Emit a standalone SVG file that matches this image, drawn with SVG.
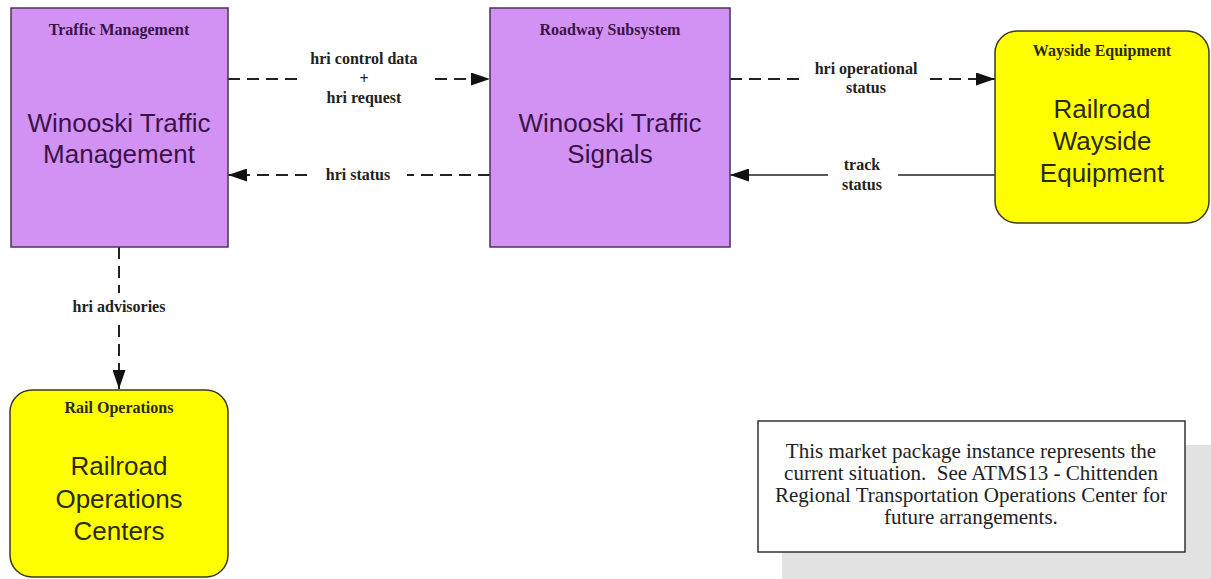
<svg xmlns="http://www.w3.org/2000/svg" width="1211" height="579" viewBox="0 0 1211 579">
<style>
.pbox{fill:#D292F4;stroke:#4a3456;stroke-width:1.5}
.ybox{fill:#FFFF00;stroke:#3a3a20;stroke-width:1.5}
.title{font-family:"Liberation Serif",serif;font-weight:bold;font-size:16px;text-anchor:middle}
.main{font-family:"Liberation Sans",Arial,sans-serif;font-size:26px;text-anchor:middle}
.ptxt{fill:#3a1248}
.ytxt{fill:#2a2a10}
.lbl{font-family:"Liberation Serif",serif;font-weight:bold;font-size:16px;text-anchor:middle;fill:#222}
.dash{stroke:#222;stroke-width:2;fill:none;stroke-dasharray:12 7}
.solid{stroke:#222;stroke-width:1.5;fill:none}
.note{font-family:"Liberation Serif",serif;font-size:21px;text-anchor:middle;fill:#222;white-space:pre}
</style>
<defs>
<marker id="arr" markerUnits="userSpaceOnUse" markerWidth="19" markerHeight="13" refX="19" refY="6.5" orient="auto">
<path d="M0,0 L19,6.5 L0,13 z" fill="#111"/>
</marker>
</defs>
<rect width="1211" height="579" fill="#ffffff"/>

<g id="connectors">
<line class="dash" x1="228" y1="79" x2="299" y2="79"/>
<line class="dash" x1="435" y1="79" x2="490" y2="79" marker-end="url(#arr)"/>
<text class="lbl" x="364" y="64">hri control data</text>
<text class="lbl" x="364" y="84">+</text>
<text class="lbl" x="364" y="103">hri request</text>

<line class="dash" x1="490" y1="175" x2="407" y2="175"/>
<line class="dash" x1="307" y1="175" x2="228" y2="175" marker-end="url(#arr)"/>
<text class="lbl" x="358" y="180">hri status</text>

<line class="dash" x1="730" y1="79" x2="803" y2="79"/>
<line class="dash" x1="930" y1="79" x2="995" y2="79" marker-end="url(#arr)"/>
<text class="lbl" x="866" y="74">hri operational</text>
<text class="lbl" x="866" y="93">status</text>

<line class="solid" x1="995" y1="175" x2="898" y2="175"/>
<line class="solid" x1="828" y1="175" x2="730" y2="175" marker-end="url(#arr)"/>
<text class="lbl" x="862" y="170">track</text>
<text class="lbl" x="862" y="190">status</text>

<line class="dash" x1="119" y1="247" x2="119" y2="293"/>
<line class="dash" x1="119" y1="325" x2="119" y2="389" marker-end="url(#arr)"/>
<text class="lbl" x="119" y="312">hri advisories</text>
</g>

<g id="traffic-management">
<rect class="pbox" x="11" y="8" width="217" height="239"/>
<text class="title ptxt" x="119" y="35">Traffic Management</text>
<text class="main ptxt" x="119" y="132">Winooski Traffic</text>
<text class="main ptxt" x="119" y="163">Management</text>
</g>

<g id="roadway-subsystem">
<rect class="pbox" x="490" y="8" width="240" height="239"/>
<text class="title ptxt" x="610" y="35">Roadway Subsystem</text>
<text class="main ptxt" x="610" y="132">Winooski Traffic</text>
<text class="main ptxt" x="610" y="163">Signals</text>
</g>

<g id="wayside-equipment">
<rect class="ybox" x="995" y="31" width="214" height="192" rx="22" ry="22"/>
<text class="title ytxt" x="1102" y="56">Wayside Equipment</text>
<text class="main ytxt" x="1102" y="118">Railroad</text>
<text class="main ytxt" x="1102" y="150">Wayside</text>
<text class="main ytxt" x="1102" y="182">Equipment</text>
</g>

<g id="rail-operations">
<rect class="ybox" x="10" y="390" width="218" height="187" rx="22" ry="22"/>
<text class="title ytxt" x="119" y="413">Rail Operations</text>
<text class="main ytxt" x="119" y="475">Railroad</text>
<text class="main ytxt" x="119" y="508">Operations</text>
<text class="main ytxt" x="119" y="540">Centers</text>
</g>

<g id="note">
<rect x="782" y="445" width="429" height="134" fill="#e2e2e2"/>
<rect x="758" y="421" width="427" height="131" fill="#ffffff" stroke="#333" stroke-width="1.5"/>
<text class="note" x="971" y="458">This market package instance represents the</text>
<text class="note" x="971" y="480" xml:space="preserve">current situation.  See ATMS13 - Chittenden</text>
<text class="note" x="971" y="502">Regional Transportation Operations Center for</text>
<text class="note" x="971" y="524">future arrangements.</text>
</g>
</svg>
